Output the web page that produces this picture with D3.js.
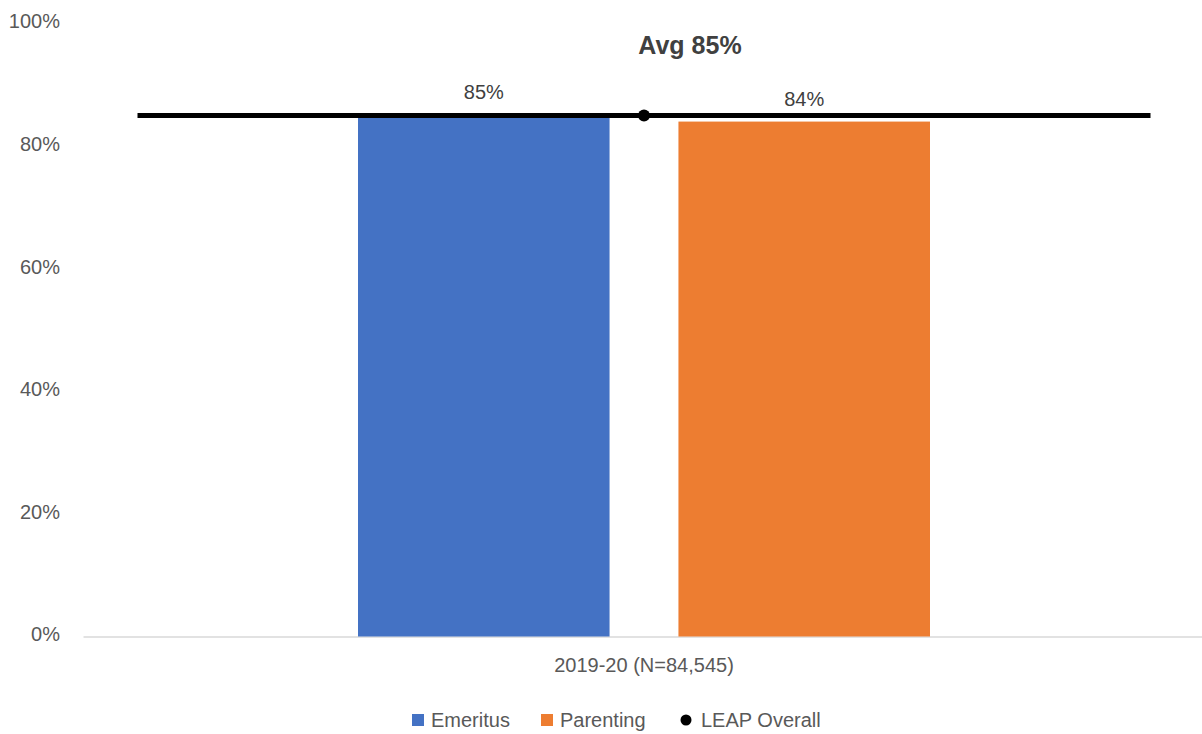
<!DOCTYPE html>
<html>
<head>
<meta charset="utf-8">
<script src="https://cdn.jsdelivr.net/npm/d3@7"></script>
<style>
  body { margin: 0; background: #fff; }
  svg { display: block; font-family: "Liberation Sans", Arial, sans-serif; }
</style>
</head>
<body>
<svg id="chart" width="1202" height="734"></svg>
<script>
// Chart data
const categories = ["2019-20 (N=84,545)"];
const seriesNames = ["Emeritus", "Parenting"];
const seriesColors = ["#4472C4", "#ED7D31"];
const emeritus = [0.85];
const parenting = [0.84];
const leapOverall = [0.85];
const avgLabel = "Avg 85%";
const yTicks = [0, 0.2, 0.4, 0.6, 0.8, 1.0];

const svg = d3.select("#chart");
const plot = { left: 83, right: 1205, top: 23.5, bottom: 636.5 };
const FONT = "Liberation Sans, Arial, sans-serif";

const y = d3.scaleLinear().domain([0, 1]).range([plot.bottom, plot.top]);
const x0 = d3.scaleBand().domain(categories).range([plot.left, plot.right])
  .paddingInner(0).paddingOuter(0.4808);
const x1 = d3.scaleBand().domain(seriesNames).range([0, x0.bandwidth()])
  .paddingInner(0.215).paddingOuter(0);
const color = d3.scaleOrdinal().domain(seriesNames).range(seriesColors);

const pct = d3.format(".0%");

// Y axis labels (no axis line, no ticks)
const yAxis = d3.axisLeft(y).tickValues(yTicks).tickFormat(pct).tickSize(0).tickPadding(0);
const yg = svg.append("g").attr("transform", "translate(60,-2)").call(yAxis);
yg.select(".domain").remove();
yg.selectAll("text").attr("font-size", 20).attr("fill", "#595959").attr("font-family", FONT);

// Baseline and category label
const xAxis = d3.axisBottom(x0).tickSize(0).tickPadding(21);
const xg = svg.append("g").attr("transform", `translate(0,${plot.bottom})`).call(xAxis);
xg.select(".domain").attr("stroke", "#d9d9d9").attr("stroke-width", 1.5);
xg.selectAll("text").attr("font-size", 20).attr("fill", "#595959").attr("font-family", FONT);

// Bars
const rows = categories.map((c, i) => ({ cat: c, values: [
  { name: seriesNames[0], v: emeritus[i] },
  { name: seriesNames[1], v: parenting[i] }
]}));

const grp = svg.append("g").selectAll("g").data(rows).join("g")
  .attr("transform", d => `translate(${x0(d.cat)},0)`);

grp.selectAll("rect").data(d => d.values).join("rect")
  .attr("x", d => x1(d.name))
  .attr("width", x1.bandwidth())
  .attr("y", d => y(d.v))
  .attr("height", d => y(0) - y(d.v))
  .attr("fill", d => color(d.name));

grp.selectAll("text.val").data(d => d.values).join("text")
  .attr("class", "val")
  .attr("x", d => x1(d.name) + x1.bandwidth() / 2)
  .attr("y", d => y(d.v) - 16)
  .attr("text-anchor", "middle")
  .attr("font-size", 20)
  .attr("fill", "#404040")
  .text(d => pct(d.v));

// Overall average line with marker
categories.forEach((c, i) => {
  const cx = x0(c) + x0.bandwidth() / 2;
  const halfLen = 506.5;
  svg.append("line")
    .attr("x1", cx - halfLen).attr("x2", cx + halfLen)
    .attr("y1", y(leapOverall[i])).attr("y2", y(leapOverall[i]))
    .attr("stroke", "#000").attr("stroke-width", 5);
  svg.append("circle")
    .attr("cx", cx).attr("cy", y(leapOverall[i]))
    .attr("r", 6).attr("fill", "#000");
  svg.append("text")
    .attr("x", cx + 46).attr("y", 54)
    .attr("text-anchor", "middle")
    .attr("font-size", 25).attr("font-weight", "bold")
    .attr("fill", "#404040")
    .text(avgLabel);
});

// Legend
const legendItems = [
  { name: seriesNames[0], type: "square", color: seriesColors[0], x: 412 },
  { name: seriesNames[1], type: "square", color: seriesColors[1], x: 541 },
  { name: "LEAP Overall", type: "dot", color: "#000", x: 681 }
];
const lg = svg.append("g").attr("transform", "translate(0,720)");
legendItems.forEach(it => {
  if (it.type === "square") {
    lg.append("rect").attr("x", it.x).attr("y", -6).attr("width", 12).attr("height", 12).attr("fill", it.color);
  } else {
    lg.append("circle").attr("cx", it.x + 5).attr("cy", 0).attr("r", 5.5).attr("fill", it.color);
  }
  lg.append("text").attr("x", it.x + (it.type === "square" ? 19 : 20)).attr("y", 7)
    .attr("font-size", 20).attr("fill", "#595959").attr("font-family", FONT).text(it.name);
});
</script>
</body>
</html>
